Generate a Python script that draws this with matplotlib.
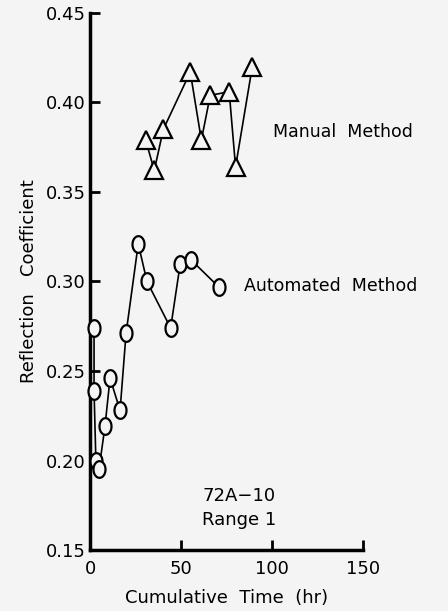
import numpy as np
import matplotlib
matplotlib.use('Agg')
import matplotlib.pyplot as plt
from matplotlib.path import Path

# Coeficiente de reflexão x tempo acumulado, métodos manual e automático
tempo_manual = [30.6, 35.3, 40.3, 55.1, 61.2, 66.1, 76.5, 80.0, 89.2]
coef_manual = [0.379, 0.362, 0.385, 0.417, 0.379, 0.404, 0.406, 0.364, 0.420]

tempo_auto = [2.2, 2.2, 3.2, 4.9, 8.2, 11.0, 16.5, 19.8, 26.5, 31.3, 44.3, 49.6, 55.6, 70.7]
coef_auto = [0.274, 0.239, 0.200, 0.195, 0.219, 0.246, 0.228, 0.271,
             0.321, 0.300, 0.274, 0.310, 0.312, 0.297]

xticks = [0, 50, 100, 150]
yticks = [0.15, 0.20, 0.25, 0.30, 0.35, 0.40, 0.45]

fundo = '#f4f4f4'
plt.rcParams['font.family'] = ['DejaVu Sans']

# marcador oval (círculo "esticado" na vertical)
t = np.linspace(0, 2 * np.pi, 60)
oval = Path(np.column_stack([0.72 * np.cos(t), np.sin(t)]), closed=True)

fig = plt.figure(figsize=(4.48, 6.11), dpi=100)
fig.patch.set_facecolor(fundo)
ax = fig.add_axes([0.201, 0.0998, 0.609, 0.879])
ax.set_facecolor(fundo)

ax.plot(tempo_manual, coef_manual, color='black', lw=1.2, marker='^',
        markersize=12.5, markerfacecolor=fundo, markeredgecolor='black',
        markeredgewidth=1.6, clip_on=False, zorder=3)
ax.plot(tempo_auto, coef_auto, color='black', lw=1.2, marker=oval,
        markersize=12, markerfacecolor=fundo, markeredgecolor='black',
        markeredgewidth=1.6, clip_on=False, zorder=3)

ax.set_xlim(0, 150)
ax.set_ylim(0.15, 0.45)
ax.set_xticks(xticks)
ax.set_yticks(yticks)
ax.set_xticklabels(['0', '50', '100', '150'])
ax.set_yticklabels(['0.15', '0.20', '0.25', '0.30', '0.35', '0.40', '0.45'])
ax.tick_params(direction='in', length=7, width=2, labelsize=13, pad=3)
ax.tick_params(axis='x', pad=7)

for lado in ['top', 'right']:
    ax.spines[lado].set_visible(False)
for lado in ['left', 'bottom']:
    ax.spines[lado].set_linewidth(2.5)

ax.set_xlabel('Cumulative  Time  (hr)', fontsize=13, labelpad=8)
ax.set_ylabel('Reflection   Coefficient', fontsize=13, labelpad=6)

ax.text(100.5, 0.3835, 'Manual  Method', fontsize=12.5, va='center')
ax.text(84.5, 0.2975, 'Automated  Method', fontsize=12.5, va='center')
ax.text(82, 0.18, '72A\u221210', fontsize=13, ha='center', va='center')
ax.text(82, 0.1665, 'Range 1', fontsize=13, ha='center', va='center')

fig.savefig('out.png', dpi=100, facecolor=fundo)
